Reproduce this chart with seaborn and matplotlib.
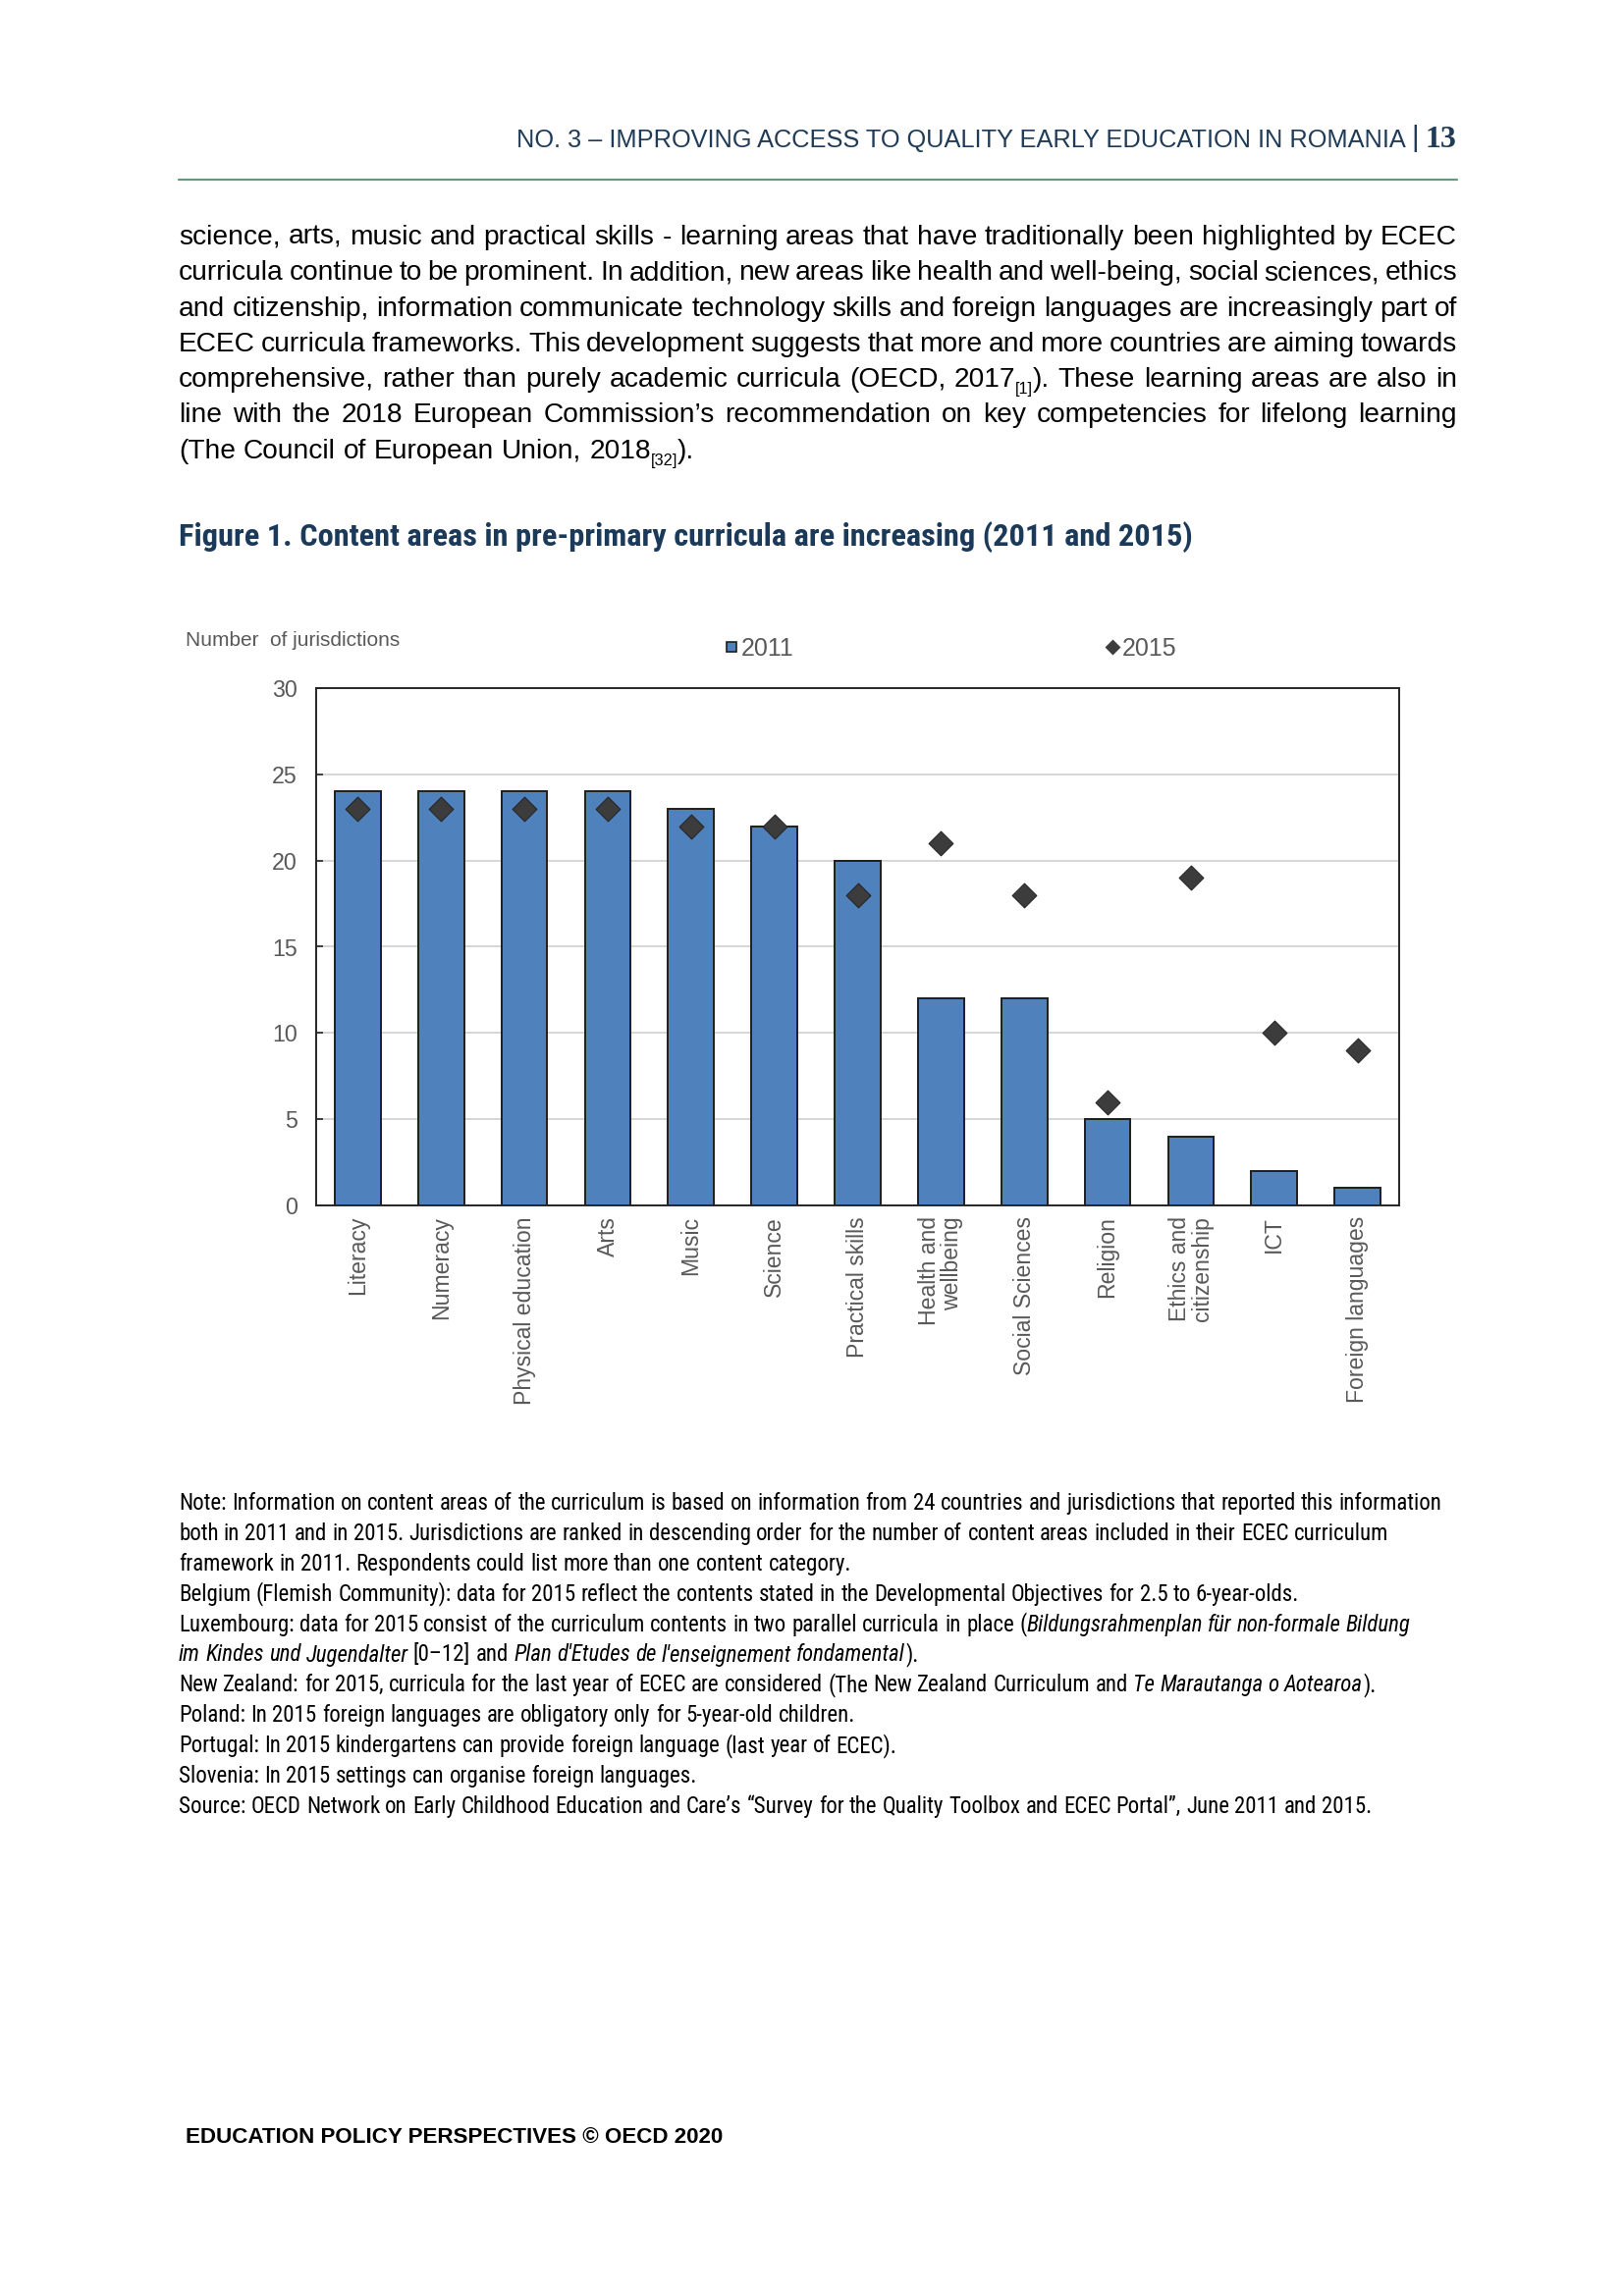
import re

import pandas as pd
import matplotlib
matplotlib.use("Agg")
import matplotlib.pyplot as plt
from matplotlib import font_manager
from matplotlib.lines import Line2D
import seaborn as sns

sns.set_theme(style="white")

W, H, DPI = 1654, 2339, 200

# chart data
CATEGORIES = [
    "Literacy", "Numeracy", "Physical education", "Arts", "Music", "Science",
    "Practical skills", "Health and\nwellbeing", "Social Sciences", "Religion",
    "Ethics and\ncitizenship", "ICT", "Foreign languages",
]
VALUES_2011 = [24, 24, 24, 24, 23, 22, 20, 12, 12, 5, 4, 2, 1]
VALUES_2015 = [23, 23, 23, 23, 22, 22, 18, 21, 18, 6, 19, 10, 9]
Y_TICKS = [0, 5, 10, 15, 20, 25, 30]
SERIES = ["2011", "2015"]

HEADER = "NO. 3 \u2013 IMPROVING ACCESS TO QUALITY EARLY EDUCATION IN ROMANIA"
PAGE = "13"
TITLE = "Figure 1. Content areas in pre-primary curricula are increasing (2011 and 2015)"
Y_LABEL = "Number  of jurisdictions"
FOOTER = "EDUCATION POLICY PERSPECTIVES \u00a9 OECD 2020"

BODY = [
    [("science, arts, music and practical skills - learning areas that have traditionally been highlighted by ECEC", "r")],
    [("curricula continue to be prominent. In addition, new areas like health and well-being, social sciences, ethics", "r")],
    [("and citizenship, information communicate technology skills and foreign languages are increasingly part of", "r")],
    [("ECEC curricula frameworks. This development suggests that more and more countries are aiming towards", "r")],
    [("comprehensive, rather than purely academic curricula (OECD, 2017", "r"), ("[1]", "sub"),
     ("). These learning areas are also in", "r")],
    [("line with the 2018 European Commission\u2019s recommendation on key competencies for lifelong learning", "r")],
    [("(The Council of European Union, 2018", "r"), ("[32]", "sub"), (").", "r")],
]

NOTES = [
    [("Note: Information on content areas of the curriculum is based on information from 24 countries and jurisdictions that reported this information", "r")],
    [("both in 2011 and in 2015. Jurisdictions are ranked in descending order for the number of content areas included in their ECEC curriculum", "r")],
    [("framework in 2011. Respondents could list more than one content category.", "r")],
    [("Belgium (Flemish Community): data for 2015 reflect the contents stated in the Developmental Objectives for 2.5 to 6-year-olds.", "r")],
    [("Luxembourg: data for 2015 consist of the curriculum contents in two parallel curricula in place (", "r"),
     ("Bildungsrahmenplan f\u00fcr non-formale Bildung", "it")],
    [("im Kindes und Jugendalter", "it"), (" [0\u201312] and ", "r"),
     ("Plan d'Etudes de l'enseignement fondamental", "it"), (").", "r")],
    [("New Zealand: for 2015, curricula for the last year of ECEC are considered (The New Zealand Curriculum and ", "r"),
     ("Te Marautanga o Aotearoa", "it"), (").", "r")],
    [("Poland: In 2015 foreign languages are obligatory only for 5-year-old children.", "r")],
    [("Portugal: In 2015 kindergartens can provide foreign language (last year of ECEC).", "r")],
    [("Slovenia: In 2015 settings can organise foreign languages.", "r")],
    [("Source: OECD Network on Early Childhood Education and Care\u2019s \u201cSurvey for the Quality Toolbox and ECEC Portal\u201d, June 2011 and 2015.", "r")],
]

BAR = "#4F81BD"
EDGE = "#1E1E1E"
DIAMOND = "#3C3C3C"
GRAY = "#595959"
NAVY = "#1F3B57"
TITLE_C = "#1B3A5A"
RULE = "#5E9C7C"

SANS = "Liberation Sans"
installed = {f.name for f in font_manager.fontManager.ttflist}
NARROW = SANS
for cand in ["Liberation Sans Narrow", "Arial Narrow", "Roboto Condensed",
             "Noto Sans Condensed", "Open Sans Condensed"]:
    if cand in installed:
        NARROW = cand
        break
plt.rcParams["font.family"] = [SANS, "DejaVu Sans"]

fig = plt.figure(figsize=(W / DPI, H / DPI), dpi=DPI)
fig.patch.set_facecolor("white")
renderer = fig.canvas.get_renderer()


def fx(x):
    return x / W


def fy(y):
    return 1 - y / H


def text_width(s, **props):
    t = fig.text(0, 0, s, **props)
    w = t.get_window_extent(renderer=renderer).width
    t.remove()
    return w


def fit(s, target, **props):
    return 10 * target / text_width(s, fontsize=10, **props)


def run_props(kind, size, family):
    if kind == "sub":
        return dict(fontsize=size * 0.58, family=family)
    if kind == "it":
        return dict(fontsize=size, family=family, style="italic")
    return dict(fontsize=size, family=family)


def tokens(segs):
    out = []
    for txt, kind in segs:
        for p in re.split(r"( )", txt):
            if p:
                out.append((p, kind))
    return out


def measure(segs, size, family):
    widths = []
    for p, kind in tokens(segs):
        props = run_props(kind, size, family)
        if p == " ":
            widths.append(text_width("n n", **props) - text_width("nn", **props))
        else:
            widths.append(text_width(p, **props))
    return widths


def draw_line(x0, base, segs, size, family, color, right=None):
    toks = tokens(segs)
    widths = measure(segs, size, family)
    n_sp = sum(p == " " for p, _ in toks)
    extra = 0
    if right is not None and n_sp:
        extra = (right - x0 - sum(widths)) / n_sp
    x = x0
    for (p, kind), w in zip(toks, widths):
        if p == " ":
            x += w + extra
            continue
        dy = size * DPI / 72 * 0.24 if kind == "sub" else 0
        fig.text(fx(x), fy(base + dy), p, color=color, ha="left", va="baseline",
                 **run_props(kind, size, family))
        x += w


# page header
hs = fit(HEADER, 907, family=SANS)
fig.text(fx(1432), fy(150), HEADER, fontsize=hs, family=SANS, color=NAVY, ha="right", va="baseline")
fig.text(fx(1441), fy(141), "|", fontsize=hs * 1.15, family=SANS, color=NAVY, ha="center", va="center")
ps = fit(PAGE, 32, family="Liberation Serif", weight="bold")
fig.text(fx(1452), fy(150), PAGE, fontsize=ps, family="Liberation Serif", weight="bold",
         color=NAVY, ha="left", va="baseline")
fig.add_artist(Line2D([fx(182), fx(1484)], [fy(183), fy(183)], color=RULE, lw=0.8))

# body paragraph, justified
body_size = 10 * 525 / sum(measure(BODY[-1], 10, SANS))
for i, segs in enumerate(BODY):
    last = i == len(BODY) - 1
    draw_line(182, 249 + 36.3 * i, segs, body_size, SANS, "black", right=None if last else 1484)

# figure title
ts = fit(TITLE, 1030, family=NARROW, weight="bold")
fig.text(fx(182), fy(556), TITLE, fontsize=ts, family=NARROW, weight="bold", color=TITLE_C,
         ha="left", va="baseline")

# chart
df = pd.DataFrame({"area": CATEGORIES, SERIES[0]: VALUES_2011, SERIES[1]: VALUES_2015})

ax = fig.add_axes([fx(322), fy(1228), (1425 - 322) / W, (1228 - 701) / H])
sns.barplot(data=df, x="area", y=SERIES[0], color=BAR, saturation=1, width=0.55,
            edgecolor=EDGE, linewidth=0.7, ax=ax, zorder=2)
sns.stripplot(data=df, x="area", y=SERIES[1], marker="D", size=6.3, color=DIAMOND,
              jitter=False, linewidth=0.4, edgecolor="#262626", ax=ax, zorder=3)

ax.set_xlim(-0.5, len(CATEGORIES) - 0.5)
ax.set_ylim(0, 30)
ax.set_yticks(Y_TICKS)
ax.set_xlabel("")
ax.set_ylabel("")
ax.yaxis.grid(True, color="#D0D0D0", lw=0.6)
ax.set_axisbelow(True)
for s in ax.spines.values():
    s.set_visible(True)
    s.set_color("#262626")
    s.set_linewidth(0.7)
ax.tick_params(axis="y", direction="in", length=2.5, width=0.6, color="#262626",
               pad=7, labelsize=8.4, labelcolor=GRAY, left=True)
ax.tick_params(axis="x", length=0, pad=4, labelsize=8.3, labelcolor=GRAY)
for lbl in ax.get_xticklabels():
    lbl.set_rotation(90)
    lbl.set_multialignment("right")
    lbl.set_linespacing(1.0)

ys = fit(Y_LABEL, 218, family=SANS)
fig.text(fx(189), fy(658), Y_LABEL, fontsize=ys, family=SANS, color=GRAY, ha="left", va="baseline")

handles = [
    Line2D([], [], ls="", marker="s", ms=3.8, mfc=BAR, mec=EDGE, mew=0.6),
    Line2D([], [], ls="", marker="D", ms=3.2, mfc=DIAMOND, mec=DIAMOND),
]
ax.legend(handles, SERIES, ncol=2, loc="center left", bbox_to_anchor=(fx(739), fy(661)),
          bbox_transform=fig.transFigure, frameon=False, fontsize=9, labelcolor=GRAY,
          handlelength=0.5, handletextpad=0.15, columnspacing=12.7, borderpad=0, borderaxespad=0)

# notes
note_size = 10 * 1284 / sum(measure(NOTES[0], 10, NARROW))
for i, segs in enumerate(NOTES):
    draw_line(182, 1538 + 30.9 * i, segs, note_size, NARROW, "black")

# footer
fs = fit(FOOTER, 549, family=SANS, weight="bold")
fig.text(fx(189), fy(2183), FOOTER, fontsize=fs, family=SANS, weight="bold", color="black",
         ha="left", va="baseline")

fig.savefig("out.png", dpi=DPI, facecolor="white")
